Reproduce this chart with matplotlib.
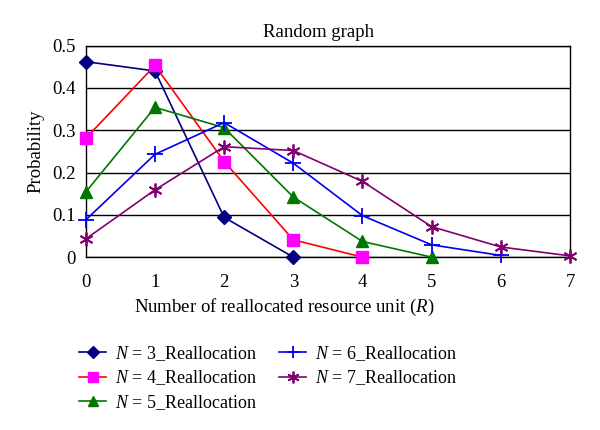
import matplotlib
matplotlib.use("Agg")
import matplotlib.pyplot as plt

plt.rcParams['font.family'] = ['Liberation Serif', 'DejaVu Serif']
plt.rcParams['mathtext.fontset'] = 'custom'
plt.rcParams['mathtext.it'] = 'Liberation Serif:italic'
plt.rcParams['mathtext.rm'] = 'Liberation Serif'

R = list(range(8))
n3 = [0.462, 0.440, 0.094, 0.0]
n4 = [0.281, 0.453, 0.226, 0.041, 0.0]
n5 = [0.154, 0.354, 0.306, 0.142, 0.037, 0.0]
n6 = [0.088, 0.243, 0.318, 0.222, 0.098, 0.029, 0.004]
n7 = [0.043, 0.159, 0.261, 0.252, 0.179, 0.072, 0.024, 0.003]
labels = [r"$N$ = 3_Reallocation", r"$N$ = 4_Reallocation", r"$N$ = 5_Reallocation",
          r"$N$ = 6_Reallocation", r"$N$ = 7_Reallocation"]

fig = plt.figure(figsize=(6, 4.3), dpi=100)
ax = fig.add_axes([0.143, 0.402, 0.807, 0.492])

h3, = ax.plot(R[:len(n3)], n3, color='#000080', marker='D', markersize=7, lw=1.2, clip_on=False, zorder=5)
h4, = ax.plot(R[:len(n4)], n4, color='red', marker='s', markersize=9, mfc='#ff00ff', mec='#ff00ff', lw=1.2, clip_on=False, zorder=5)
h5, = ax.plot(R[:len(n5)], n5, color='#007700', marker='^', markersize=9, lw=1.2, clip_on=False, zorder=5)
h6, = ax.plot(R[:len(n6)], n6, color='#0000ee', marker='+', markersize=11, mew=1.3, lw=1.2, clip_on=False, zorder=5)
h7, = ax.plot(R[:len(n7)], n7, color='#800070', marker=(6, 2, 0), markersize=10, mew=1.3, lw=1.2, clip_on=False, zorder=5)

ax.set_xlim(0, 7)
ax.set_ylim(0, 0.5)
ax.set_xticks(R)
ax.set_yticks([0, 0.1, 0.2, 0.3, 0.4, 0.5])
ax.set_yticklabels(['0', '0.1', '0.2', '0.3', '0.4', '0.5'])
ax.tick_params(length=0, labelsize=13.5)
ax.tick_params(axis='x', pad=12)
ax.tick_params(axis='y', pad=7)
ax.yaxis.grid(True, color='black', lw=1)
for s in ax.spines.values():
    s.set_color('black')
    s.set_linewidth(1)

ax.set_title("Random graph", fontsize=13.5, pad=6, x=0.48)
ax.set_ylabel("Probability", fontsize=13.5, labelpad=6)
ax.set_xlabel(r"Number of reallocated resource unit ($R$)", fontsize=13.5, labelpad=8)
ax.xaxis.set_label_coords(0.41, -0.19)

fig.legend([h3, h4, h5, h6, h7], labels, ncol=2, loc='upper left', bbox_to_anchor=(0.105, 0.238),
           frameon=False, fontsize=13, handlelength=1.5, handletextpad=0.5,
           labelspacing=0.32, columnspacing=1.2, markerscale=0.85)

fig.savefig("out.png", dpi=100)
